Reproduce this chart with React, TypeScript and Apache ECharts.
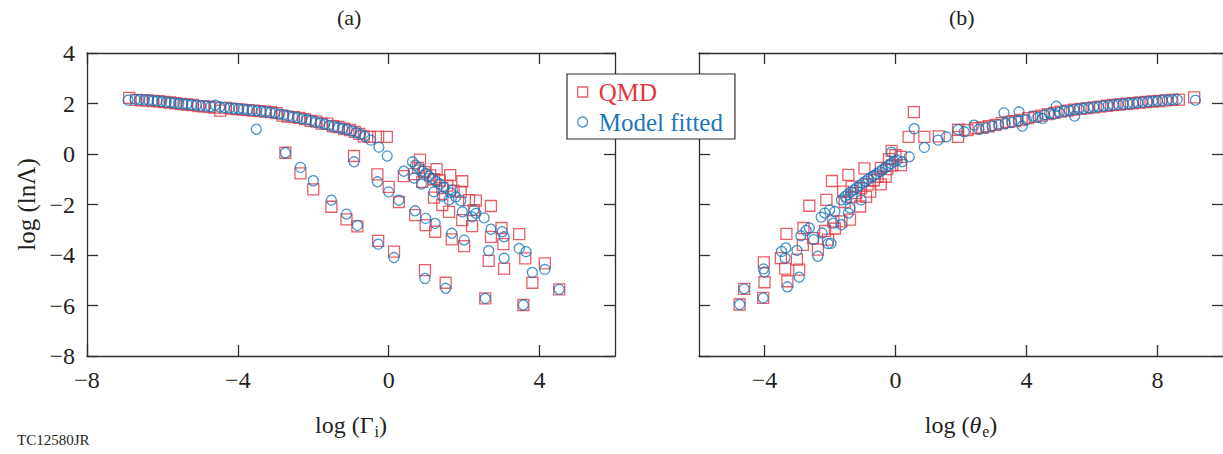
import React, { useEffect, useRef } from "react";
import * as echarts from "echarts";

// Panel (a): log(lnΛ) versus log(Γi)
const qmdA: number[][] = [
  [-6.88, 2.22], [-6.7, 2.14], [-6.55, 2.12], [-6.4, 2.12], [-6.25, 2.1], [-6.1, 2.09], [-5.95, 2.06],
  [-5.8, 2.04], [-5.65, 2.01], [-5.5, 1.98], [-5.35, 1.96], [-5.2, 1.94], [-5.05, 1.9], [-4.9, 1.89],
  [-4.75, 1.87], [-4.62, 1.84], [-4.47, 1.72], [-4.32, 1.83], [-4.18, 1.8], [-4.03, 1.78], [-3.88, 1.76],
  [-3.72, 1.74], [-3.58, 1.72], [-3.42, 1.7], [-3.27, 1.68], [-3.12, 1.66], [-2.97, 1.62], [-2.82, 1.52],
  [-2.68, 1.48], [-2.52, 1.46], [-2.37, 1.43], [-2.22, 1.38], [-2.07, 1.31], [-1.92, 1.28], [-1.78, 1.2],
  [-1.63, 1.2], [-1.48, 1.1], [-1.33, 1.07], [-1.18, 1.0], [-1.03, 0.95], [-0.9, 0.88], [-0.78, 0.8],
  [-0.66, 0.7], [-0.5, 0.68], [-0.28, 0.68], [-0.05, 0.68],
  [-2.74, 0.05], [-2.34, -0.77], [-2.0, -1.4], [-1.52, -2.09], [-1.12, -2.59], [-0.83, -2.87],
  [-0.28, -3.44], [0.14, -3.87], [0.96, -4.6], [1.51, -5.1], [2.56, -5.72], [3.57, -5.98], [4.52, -5.36],
  [-0.92, -0.08], [-0.3, -0.81], [0.0, -1.3], [0.27, -1.9], [0.4, -0.88], [0.7, -2.42], [0.98, -2.82],
  [1.23, -3.08], [1.67, -3.38], [2.0, -3.65], [2.65, -4.23], [3.06, -4.54], [3.81, -5.1], [4.14, -4.33],
  [0.83, -0.22], [1.27, -0.6], [1.63, -0.84], [1.95, -1.08], [0.67, -0.8], [0.89, -1.1], [0.78, -0.55],
  [0.95, -0.72], [1.1, -0.85], [1.2, -1.0], [1.35, -1.05], [1.42, -1.35], [1.55, -1.25], [1.72, -1.45],
  [1.2, -1.73], [1.42, -2.02], [1.6, -2.29], [1.91, -1.5], [2.13, -1.83], [2.31, -1.85], [2.71, -2.06],
  [2.26, -2.22], [1.95, -2.62], [2.21, -2.86], [2.71, -3.28], [2.99, -2.93], [3.04, -3.57], [3.46, -3.17],
  [3.62, -4.13],
];

const fitA: number[][] = [
  [-6.91, 2.13], [-6.72, 2.16], [-6.6, 2.15], [-6.48, 2.14], [-6.37, 2.13], [-6.25, 2.11], [-6.14, 2.1],
  [-6.02, 2.08], [-5.9, 2.06], [-5.79, 2.04], [-5.68, 2.02], [-5.57, 2.0], [-5.46, 1.99], [-5.35, 1.97],
  [-5.22, 1.95], [-5.1, 1.93], [-4.98, 1.91], [-4.85, 1.9], [-4.72, 1.88], [-4.6, 1.93], [-4.48, 1.86],
  [-4.35, 1.84], [-4.22, 1.82], [-4.1, 1.8], [-3.98, 1.79], [-3.86, 1.77], [-3.74, 1.75], [-3.62, 1.73],
  [-3.5, 1.71], [-3.38, 1.69], [-3.26, 1.67], [-3.14, 1.65], [-3.02, 1.62], [-2.9, 1.58], [-2.78, 1.55],
  [-2.66, 1.51], [-2.54, 1.47], [-2.42, 1.44], [-2.3, 1.4], [-2.18, 1.36], [-2.06, 1.32], [-1.94, 1.27],
  [-1.82, 1.22], [-1.7, 1.18], [-1.58, 1.13], [-1.46, 1.09], [-1.34, 1.05], [-1.22, 1.01], [-1.1, 0.97],
  [-0.98, 0.91], [-0.86, 0.85], [-0.75, 0.78], [-0.64, 0.7], [-0.48, 0.55], [-0.26, 0.27], [-0.04, -0.08],
  [-3.51, 0.98],
  [-2.74, 0.05], [-2.34, -0.53], [-2.0, -1.06], [-1.52, -1.83], [-1.12, -2.38], [-0.83, -2.83],
  [-0.28, -3.57], [0.14, -4.1], [0.96, -4.93], [1.51, -5.32], [2.56, -5.72], [3.57, -5.98], [4.52, -5.36],
  [-0.92, -0.31], [-0.3, -1.1], [0.0, -1.5], [0.27, -1.83], [0.4, -0.68], [0.7, -2.25], [0.98, -2.55],
  [1.23, -2.75], [1.67, -3.14], [2.0, -3.41], [2.65, -3.83], [3.06, -4.13], [3.81, -4.69], [4.14, -4.57],
  [0.63, -0.31], [0.71, -0.44], [0.8, -0.55], [0.89, -0.68], [0.98, -0.77], [1.07, -0.88], [1.16, -0.97],
  [1.25, -1.08], [1.36, -1.19], [1.47, -1.33], [1.64, -1.54], [1.78, -1.7], [1.91, -1.85],
  [0.67, -0.95], [0.87, -1.19], [1.2, -1.5], [1.42, -1.67], [1.6, -1.82], [1.69, -1.43], [1.95, -2.29],
  [2.21, -2.49], [2.26, -2.22], [2.31, -2.35], [2.53, -2.53], [2.71, -2.98], [3.01, -3.08], [3.06, -3.28],
  [3.46, -3.74], [3.64, -3.87],
];

// Panel (b): log(lnΛ) versus log(θe)
const qmdB: number[][] = [
  [-4.76, -5.96], [-4.62, -5.34], [-4.04, -5.7], [-4.02, -4.29], [-4.0, -5.08], [-3.33, -3.16],
  [-3.37, -4.54], [-3.3, -5.04], [-3.5, -4.12], [-3.01, -4.18], [-2.94, -4.58], [-2.81, -2.93],
  [-2.63, -2.05], [-2.83, -3.6], [-2.52, -3.33], [-2.37, -3.79], [-2.11, -1.82], [-1.94, -1.07],
  [-2.06, -3.39], [-1.9, -2.67], [-1.6, -1.49], [-1.44, -0.83], [-1.65, -2.67], [-1.39, -2.6],
  [-1.34, -1.29], [-0.95, -0.57], [-1.08, -2.08], [-0.77, -1.49], [-2.15, -3.05], [-1.85, -2.95],
  [-1.55, -1.9], [-1.35, -1.7], [-1.2, -1.55], [-1.05, -1.35], [-0.9, -1.7], [-0.85, -1.2], [-0.66, -1.04],
  [-0.55, -0.9], [-0.45, -1.2], [-0.3, -0.9], [-0.25, -0.6], [-0.1, -0.45], [0.17, -0.44], [-0.45, -0.55],
  [-0.2, -0.2], [0.0, -0.05], [-0.12, 0.12], [0.16, -0.11],
  [0.56, 1.66], [0.4, 0.68], [0.88, 0.68], [1.32, 0.7], [1.91, 0.96], [1.91, 0.68],
  [2.2, 0.95], [2.45, 1.02], [2.65, 1.05], [2.85, 1.1], [3.05, 1.15], [3.25, 1.22], [3.45, 1.27],
  [3.65, 1.3], [3.85, 1.35], [4.05, 1.42], [4.25, 1.47], [4.45, 1.52], [4.65, 1.58], [4.85, 1.63],
  [5.05, 1.68], [5.25, 1.72], [5.45, 1.76], [5.65, 1.79], [5.85, 1.82], [6.05, 1.85], [6.25, 1.88],
  [6.45, 1.91], [6.65, 1.94], [6.85, 1.96], [7.05, 1.99], [7.25, 2.01], [7.45, 2.04], [7.65, 2.06],
  [7.85, 2.08], [8.05, 2.1], [8.25, 2.12], [8.45, 2.14], [8.65, 2.15], [9.12, 2.24],
];

const fitB: number[][] = [
  [-4.76, -5.96], [-4.62, -5.34], [-4.04, -5.7], [-4.03, -4.55], [-4.0, -4.67], [-3.3, -5.26],
  [-3.48, -3.86], [-3.35, -3.72], [-3.37, -4.12], [-3.01, -3.82], [-2.94, -4.88], [-2.89, -3.24],
  [-2.73, -3.03], [-2.63, -2.93], [-2.5, -3.39], [-2.37, -4.05], [-2.24, -3.13], [-2.27, -2.5],
  [-2.16, -2.34], [-2.01, -2.21], [-1.85, -2.28], [-2.06, -3.55], [-1.9, -2.74], [-1.65, -1.82],
  [-1.49, -1.79], [-1.65, -2.8], [-1.39, -2.14], [-1.44, -2.34], [-1.05, -1.82], [-1.97, -3.54],
  [-1.54, -1.68], [-1.45, -1.6], [-1.36, -1.5], [-1.27, -1.42], [-1.18, -1.33], [-1.1, -1.25],
  [-1.0, -1.15], [-0.92, -1.08], [-0.83, -1.0], [-0.74, -0.92], [-0.66, -0.86], [-0.57, -0.78],
  [-0.48, -0.7], [-0.4, -0.62], [-0.31, -0.54], [-0.22, -0.45], [-0.13, -0.38], [-0.04, -0.3],
  [0.05, -0.25], [0.2, -0.31], [-0.12, 0.07], [0.42, -0.11], [0.57, 1.0], [0.88, 0.26], [1.3, 0.55],
  [1.55, 0.68], [1.91, 0.96], [2.1, 0.88], [2.4, 1.14], [2.55, 0.98], [2.75, 1.02], [2.95, 1.1],
  [3.15, 1.15], [3.31, 1.63], [3.35, 1.2], [3.55, 1.25], [3.77, 1.67], [3.87, 1.1], [3.75, 1.32],
  [4.0, 1.35], [4.2, 1.5], [4.35, 1.45], [4.49, 1.41], [4.55, 1.55], [4.7, 1.6], [4.91, 1.89],
  [4.85, 1.58], [5.0, 1.65], [5.15, 1.7], [5.3, 1.72], [5.47, 1.5], [5.45, 1.76], [5.6, 1.78],
  [5.75, 1.8], [5.9, 1.83], [6.05, 1.85], [6.2, 1.87], [6.35, 1.9], [6.5, 1.92], [6.65, 1.94],
  [6.8, 1.96], [6.95, 1.98], [7.1, 2.0], [7.25, 2.01], [7.4, 2.03], [7.55, 2.05], [7.7, 2.07],
  [7.85, 2.09], [8.0, 2.1], [8.15, 2.12], [8.3, 2.13], [8.45, 2.15], [8.6, 2.16], [9.16, 2.13],
];

const xTicksA = [-8, -4, 0, 4];
const xTicksB = [-4, 0, 4, 8];
const yTicks = [4, 2, 0, -2, -4, -6, -8];

const RED = "#e2383f";
const BLUE = "#1c77bd";
const INK = "#231f20";
const FRAME = "#2e2e2e";
const SERIF = "'Liberation Serif', 'Times New Roman', serif";

const fmt = (v: number) => (v < 0 ? "\u2212" + Math.abs(v) : String(v));

const lineStyle = { color: FRAME, width: 1.3 };

function xAxisPair(gridIndex: number, min: number, max: number, ticks: number[], name: string, rich: any) {
  const bottom = {
    type: "value",
    gridIndex,
    min,
    max,
    position: "bottom",
    axisLine: { show: true, onZero: false, lineStyle },
    axisTick: { show: true, inside: true, length: 11, customValues: ticks, lineStyle },
    axisLabel: {
      show: true,
      customValues: ticks,
      formatter: fmt,
      fontFamily: SERIF,
      fontSize: 24,
      color: INK,
      margin: 12,
    },
    splitLine: { show: false },
    name,
    nameLocation: "middle",
    nameGap: 55,
    nameTextStyle: { fontFamily: SERIF, fontSize: 24, color: INK, rich },
  };
  const top = {
    type: "value",
    gridIndex,
    min,
    max,
    position: "top",
    axisLine: { show: true, onZero: false, lineStyle },
    axisTick: { show: true, inside: true, length: 11, customValues: ticks, lineStyle },
    axisLabel: { show: false },
    splitLine: { show: false },
  };
  return [bottom, top];
}

function yAxisPair(gridIndex: number, labelled: boolean) {
  const left: any = {
    type: "value",
    gridIndex,
    min: -8,
    max: 4,
    position: "left",
    axisLine: { show: true, onZero: false, lineStyle },
    axisTick: { show: true, inside: true, length: 11, customValues: yTicks, lineStyle },
    axisLabel: {
      show: labelled,
      customValues: yTicks,
      formatter: fmt,
      fontFamily: SERIF,
      fontSize: 24,
      color: INK,
      margin: 12,
    },
    splitLine: { show: false },
  };
  if (labelled) {
    left.name = "log (ln\u039B)";
    left.nameLocation = "middle";
    left.nameGap = 48;
    left.nameRotate = 90;
    left.nameTextStyle = { fontFamily: SERIF, fontSize: 25, color: INK };
  }
  const right = {
    type: "value",
    gridIndex,
    min: -8,
    max: 4,
    position: "right",
    axisLine: { show: true, onZero: false, lineStyle },
    axisTick: { show: true, inside: true, length: 11, customValues: yTicks, lineStyle },
    axisLabel: { show: false },
    splitLine: { show: false },
  };
  return [left, right];
}

const squareStyle = { color: "rgba(0,0,0,0)", borderColor: RED, borderWidth: 1.3 };
const circleStyle = { color: "rgba(0,0,0,0)", borderColor: BLUE, borderWidth: 1.3 };

export default function App() {
  const ref = useRef<HTMLDivElement>(null);

  useEffect(() => {
    if (!ref.current) return;
    const chart = echarts.init(ref.current, undefined, { renderer: "svg" });

    const richA = {
      t: { fontFamily: SERIF, fontSize: 24, color: INK },
      s: { fontFamily: SERIF, fontSize: 16, color: INK, padding: [12, 0, 0, 1] },
    };
    const richB = {
      t: { fontFamily: SERIF, fontSize: 24, color: INK },
      it: { fontFamily: SERIF, fontSize: 24, fontStyle: "italic", color: INK },
      s: { fontFamily: SERIF, fontSize: 16, color: INK, padding: [12, 0, 0, 1] },
    };

    chart.setOption({
      animation: false,
      backgroundColor: "#ffffff",
      grid: [
        { left: 87, top: 53, width: 528, height: 303 },
        { left: 699, top: 53, width: 528, height: 303 },
      ],
      xAxis: [
        ...xAxisPair(0, -8, 6, xTicksA, "{t|log (\u0393}{s|i}{t|)}", richA),
        ...xAxisPair(1, -6, 10, xTicksB, "{t|log (}{it|\u03B8}{s|e}{t|)}", richB),
      ],
      yAxis: [...yAxisPair(0, true), ...yAxisPair(1, false)],
      legend: {
        orient: "vertical",
        left: 567,
        top: 74,
        padding: [4, 12, 3, 10],
        itemGap: 2,
        itemWidth: 10,
        itemHeight: 10,
        borderColor: FRAME,
        borderWidth: 1.2,
        backgroundColor: "#ffffff",
        selectedMode: false,
        textStyle: { fontFamily: SERIF, fontSize: 25, lineHeight: 28, padding: [0, 0, 0, 6] },
        data: [
          { name: "QMD", icon: "rect", itemStyle: squareStyle, textStyle: { color: RED } },
          { name: "Model fitted", icon: "circle", itemStyle: circleStyle, textStyle: { color: BLUE } },
        ],
      },
      graphic: [
        {
          type: "text",
          left: 351 - 14,
          top: 6,
          style: { text: "(a)", font: `22px ${SERIF}`, fill: INK },
        },
        {
          type: "text",
          left: 963 - 14,
          top: 6,
          style: { text: "(b)", font: `22px ${SERIF}`, fill: INK },
        },
        {
          type: "text",
          left: 17,
          top: 432,
          style: { text: "TC12580JR", font: `15px ${SERIF}`, fill: INK },
        },
      ],
      series: [
        {
          type: "scatter",
          name: "QMD",
          xAxisIndex: 0,
          yAxisIndex: 0,
          data: qmdA,
          symbol: "rect",
          symbolSize: 11,
          itemStyle: squareStyle,
        },
        {
          type: "scatter",
          name: "QMD",
          xAxisIndex: 2,
          yAxisIndex: 2,
          data: qmdB,
          symbol: "rect",
          symbolSize: 11,
          itemStyle: squareStyle,
        },
        {
          type: "scatter",
          name: "Model fitted",
          xAxisIndex: 0,
          yAxisIndex: 0,
          data: fitA,
          symbol: "circle",
          symbolSize: 10,
          itemStyle: circleStyle,
        },
        {
          type: "scatter",
          name: "Model fitted",
          xAxisIndex: 2,
          yAxisIndex: 2,
          data: fitB,
          symbol: "circle",
          symbolSize: 10,
          itemStyle: circleStyle,
        },
      ],
    });

    return () => chart.dispose();
  }, []);

  return (
    <div
      ref={ref}
      style={{ position: "absolute", left: 0, top: 0, width: 1223, height: 454 }}
    />
  );
}
